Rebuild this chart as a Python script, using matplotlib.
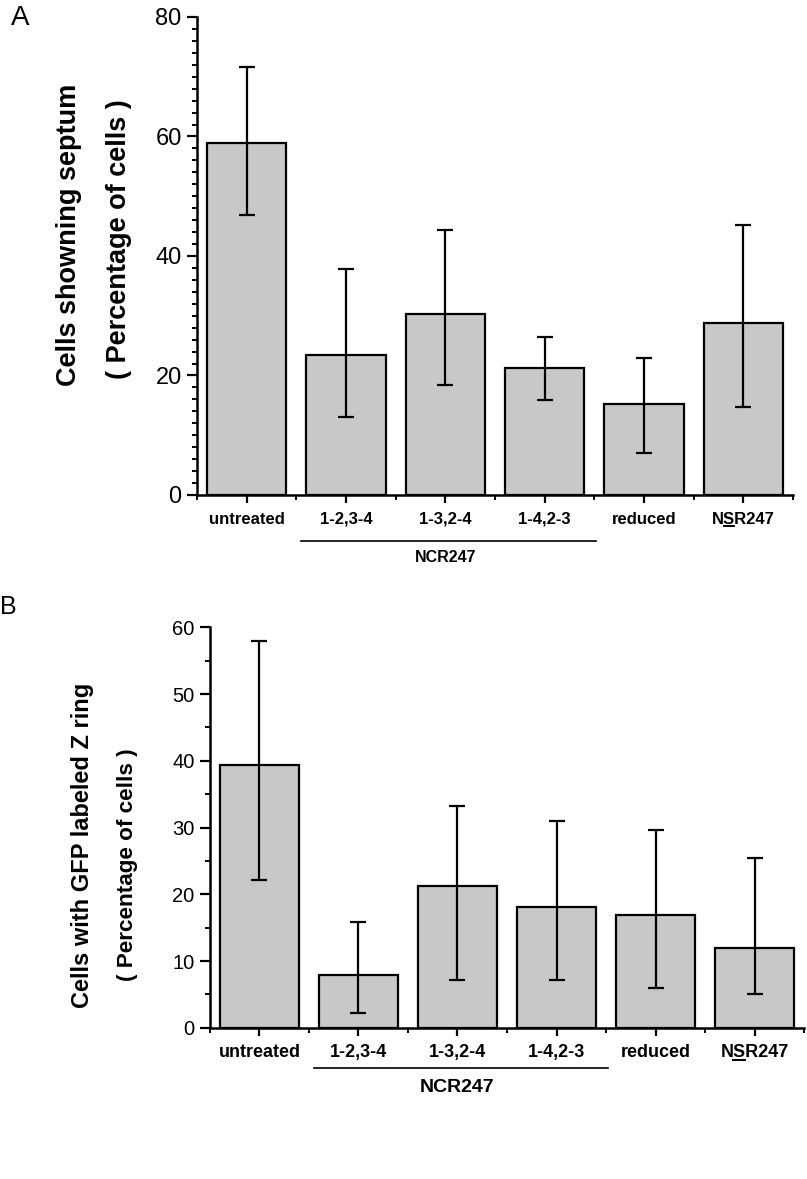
import matplotlib.pyplot as plt
import numpy as np
from matplotlib.transforms import blended_transform_factory
from matplotlib.lines import Line2D

plt.rcParams['font.family'] = ['Liberation Sans', 'DejaVu Sans']

labels = ['untreated', '1-2,3-4', '1-3,2-4', '1-4,2-3', 'reduced', 'NSR247']

# panel A: cells showing septum
septum = [58.9, 23.4, 30.3, 21.2, 15.3, 28.7]
septum_hi = [71.7, 37.8, 44.4, 26.5, 23.0, 45.1]
septum_lo = [46.9, 13.1, 18.4, 15.9, 7.0, 14.7]

# panel B: GFP labeled Z ring
zring = [39.4, 7.85, 21.2, 18.1, 16.9, 11.9]
zring_hi = [57.9, 15.9, 33.2, 31.0, 29.7, 25.4]
zring_lo = [22.1, 2.2, 7.1, 7.1, 5.9, 5.0]

fig = plt.figure(figsize=(8.07, 11.79), dpi=100)
axA = fig.add_axes([0.2441, 0.5802, 0.7386, 0.4054])
axB = fig.add_axes([0.2602, 0.1283, 0.7361, 0.3396])


def draw(ax, vals, hi, lo, ymax, major, minor, tick_fs, lab_fs, xt_fs, grp_fs,
         ylab, lab_x, lab_y, line_y, grp_y, xpad):
    x = np.arange(len(vals))
    v = np.array(vals)
    err = [v - np.array(lo), np.array(hi) - v]
    ax.bar(x, v, width=0.8, color='#c8c8c8', edgecolor='black', linewidth=1.6, zorder=2)
    ax.errorbar(x, v, yerr=err, fmt='none', ecolor='black', elinewidth=1.6,
                capsize=6, capthick=1.6, zorder=3)
    ax.set_xlim(-0.5, 5.5)
    ax.set_ylim(0, ymax)
    ax.set_yticks(np.arange(0, ymax + 1, major))
    ax.set_yticks(np.arange(0, ymax + 0.1, minor), minor=True)
    ax.set_xticks(x)
    ax.set_xticks(np.arange(-0.5, 6, 1), minor=True)
    ax.set_xticklabels(labels, fontweight='bold', fontsize=xt_fs)
    ax.tick_params(axis='y', which='major', direction='out', length=7, width=1.6,
                   labelsize=tick_fs, pad=4)
    ax.tick_params(axis='y', which='minor', direction='out', length=3.5, width=1.4)
    ax.tick_params(axis='x', which='major', direction='out', length=6, width=1.6, pad=xpad)
    ax.tick_params(axis='x', which='minor', direction='out', length=3.5, width=1.4)
    for s in ['top', 'right']:
        ax.spines[s].set_visible(False)
    for s in ['left', 'bottom']:
        ax.spines[s].set_linewidth(1.8)
    ax.text(lab_x[0], lab_y[0], ylab[0], transform=ax.transAxes, rotation=90,
            ha='center', va='center', fontsize=lab_fs[0], fontweight='bold')
    ax.text(lab_x[1], lab_y[1], ylab[1], transform=ax.transAxes, rotation=90,
            ha='center', va='center', fontsize=lab_fs[1], fontweight='bold')
    tr = blended_transform_factory(ax.transData, ax.transAxes)
    ax.plot([0.55, 3.52], [line_y, line_y], color='black', lw=1.2, transform=tr, clip_on=False)
    ax.text(2.0, grp_y, 'NCR247', transform=tr, ha='center', va='center',
            fontsize=grp_fs, fontweight='bold')


draw(axA, septum, septum_hi, septum_lo, 80, 20, 2, 17, (19.5, 19.5), 12, 11.5,
     ['Cells showning septum', '( Percentage of cells )'],
     [-0.214, -0.131], [0.544, 0.536], -0.096, -0.13, 6)
draw(axB, zring, zring_hi, zring_lo, 60, 10, 5, 14.5, (17, 16.2), 13, 14,
     ['Cells with GFP labeled Z ring', '( Percentage of cells )'],
     [-0.215, -0.139], [0.456, 0.406], -0.10, -0.15, 6)

fig.text(0.013, 0.9845, 'A', fontsize=20, ha='left', va='center')
fig.text(0.0, 0.485, 'B', fontsize=18, ha='left', va='center')

# underline the S in NSR247
fig.canvas.draw()
r = fig.canvas.get_renderer()
for ax, fs in [(axA, 12), (axB, 13)]:
    t = ax.get_xticklabels()[-1]
    bb = t.get_window_extent(r)
    tmp = fig.text(0, 0, 'N', fontsize=fs, fontweight='bold')
    wN = tmp.get_window_extent(r).width
    tmp.set_text('NS')
    wNS = tmp.get_window_extent(r).width
    tmp.remove()
    y = bb.y0 + 1
    fig.add_artist(Line2D([bb.x0 + wN, bb.x0 + wNS - 1], [y, y], color='black',
                          lw=1.4, transform=None))

fig.savefig('out.png', dpi=100)
